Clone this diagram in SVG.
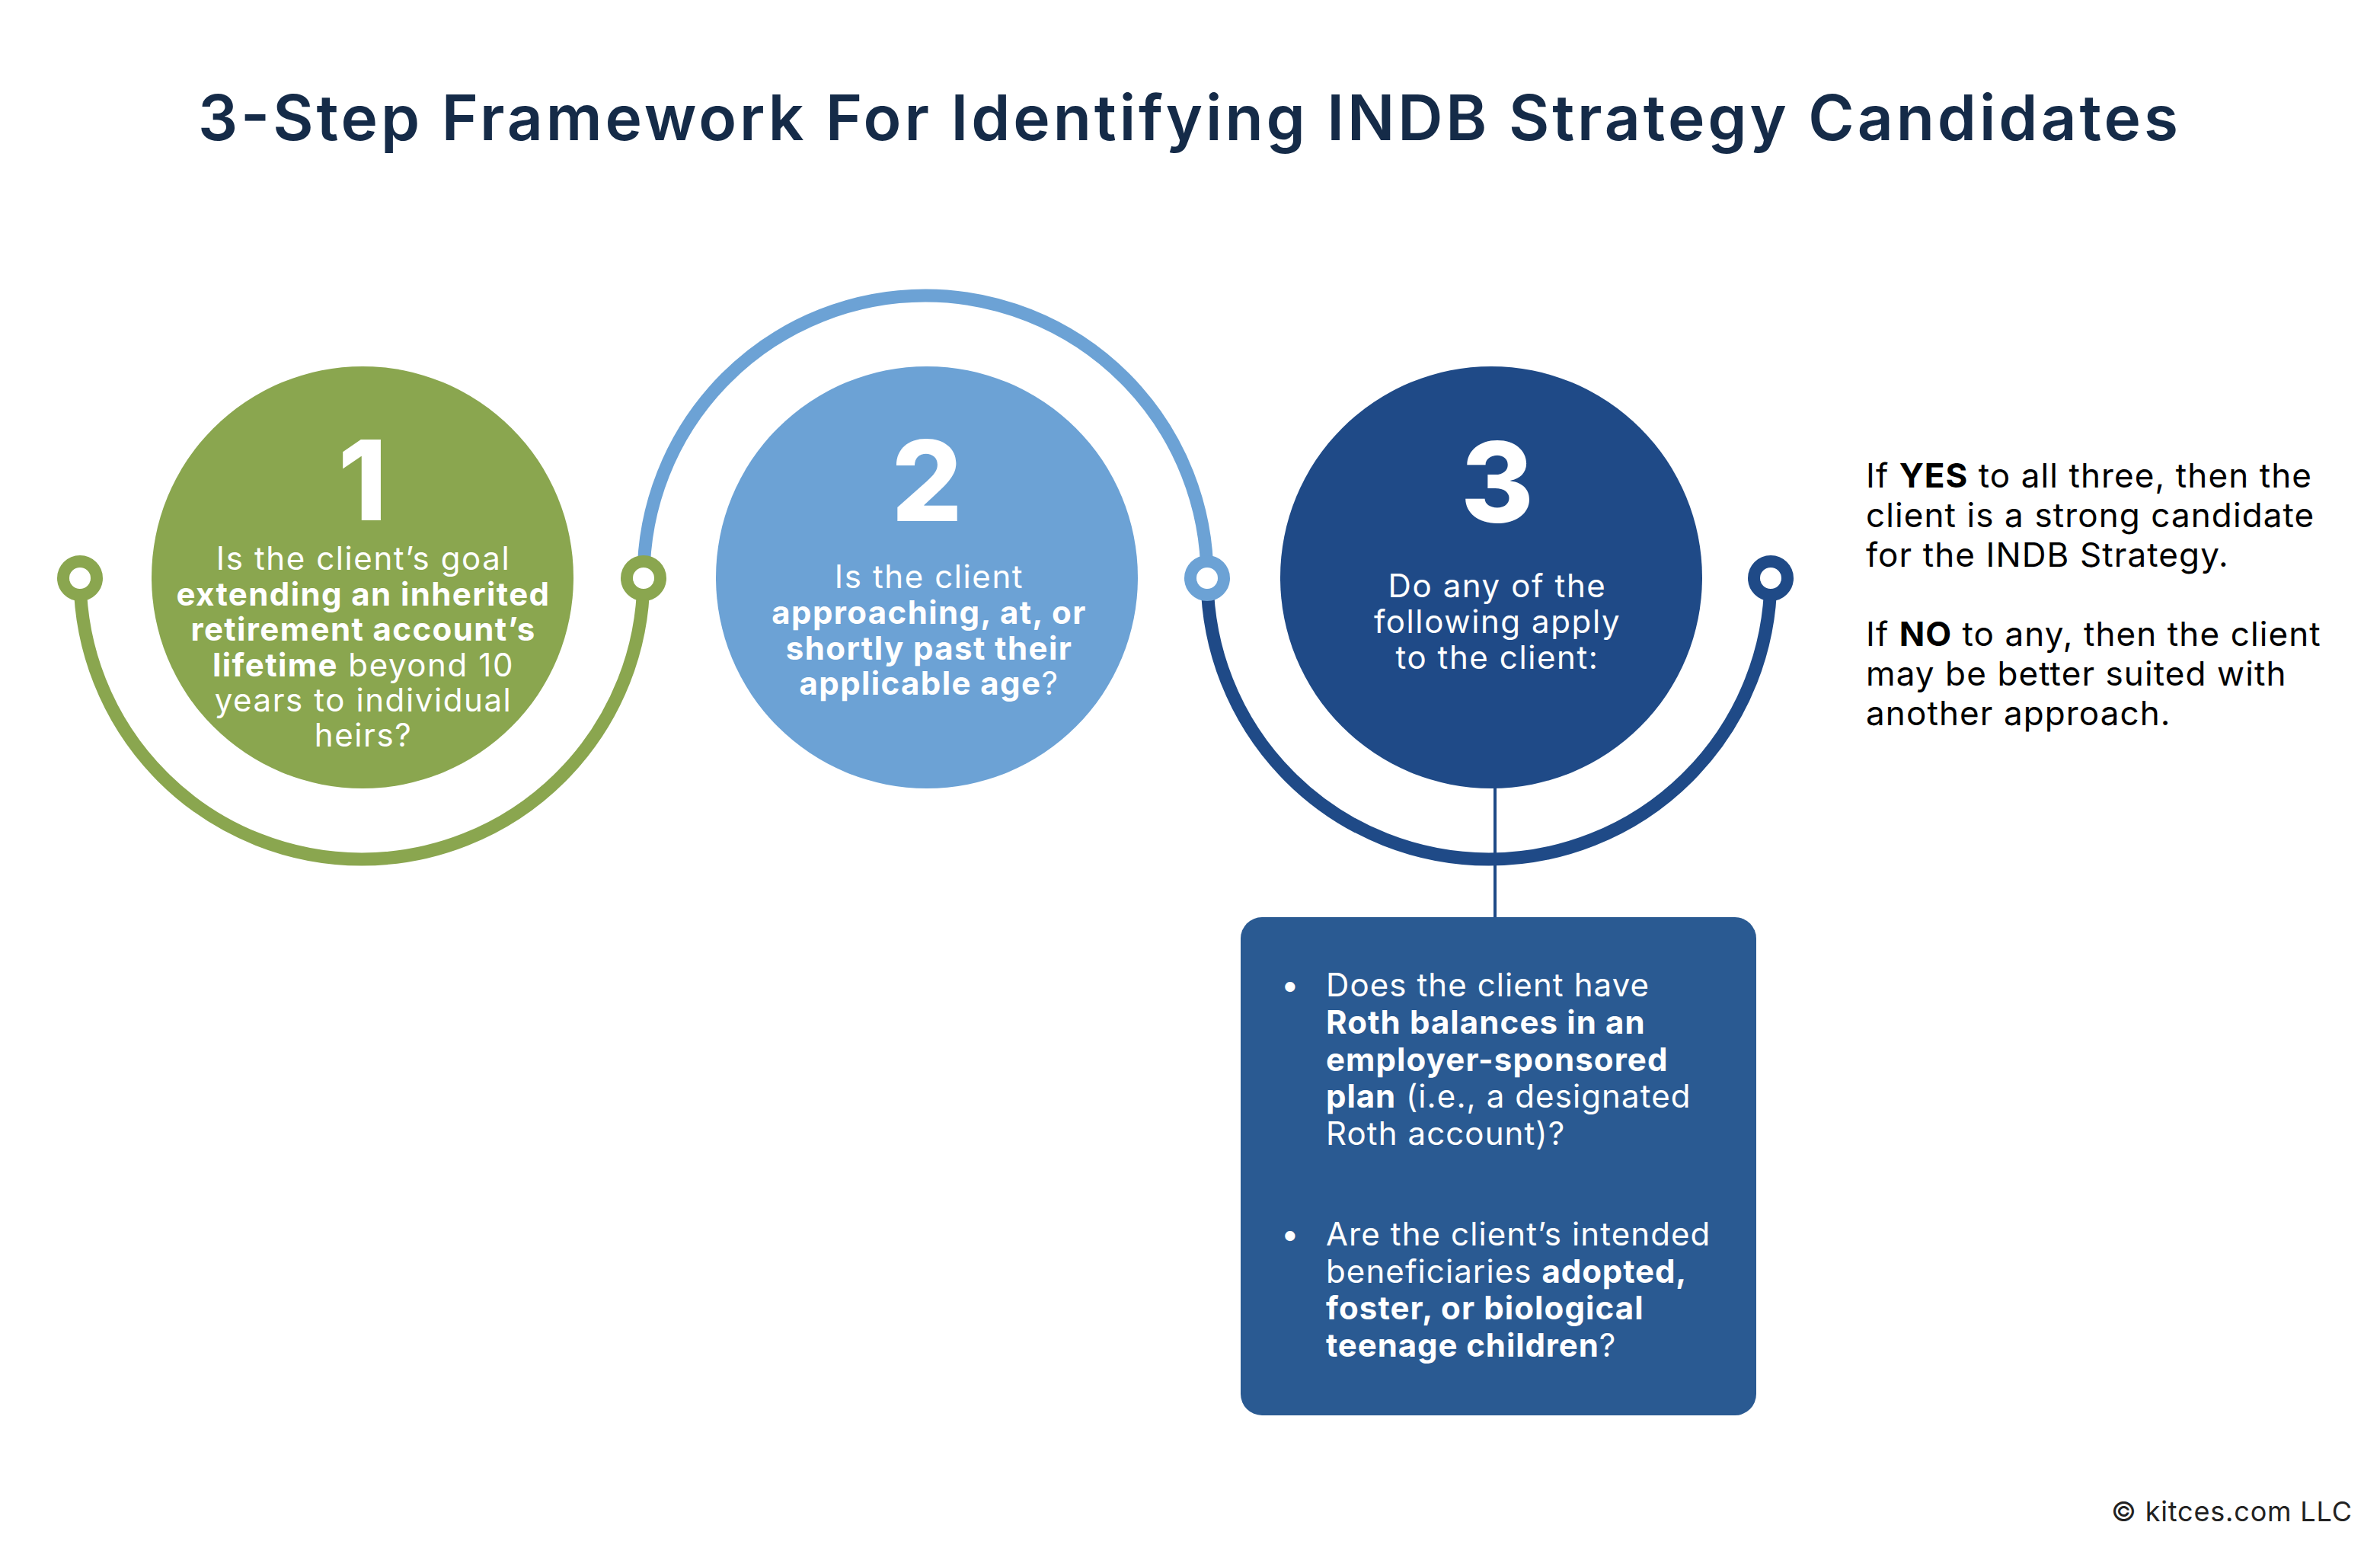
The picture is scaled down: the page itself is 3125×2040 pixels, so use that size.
<svg xmlns="http://www.w3.org/2000/svg" width="3125" height="2040" viewBox="0 0 3125 2040">
<style>
.t{font-family:Inter,"Noto Sans","Liberation Sans",sans-serif;}
.w{fill:#ffffff;}
.c{text-anchor:middle;font-size:42px;letter-spacing:1.6px;}
.b{font-weight:700;letter-spacing:0.9px;}
.c.b,.c .b{letter-spacing:1.4px;}
.num{font-size:146px;font-weight:800;text-anchor:middle;fill:#ffffff;}
.box{font-size:42px;letter-spacing:1.1px;fill:#ffffff;}
.side{font-size:44px;letter-spacing:1.1px;fill:#000000;}
.arc{fill:none;stroke-width:17;}
.ring{fill:#ffffff;stroke-width:16;}
</style>
<rect width="3125" height="2040" fill="#ffffff"/>
<text class="t" x="1560" y="184" font-size="82" font-weight="600" fill="#152B48" text-anchor="middle" textLength="2600" lengthAdjust="spacing">3-Step Framework For Identifying INDB Strategy Candidates</text>

<g id="connectors">
<path class="arc" stroke="#8AA64F" d="M105 758 A370 370 0 0 0 845 758"/>
<path class="arc" stroke="#6CA2D5" d="M845 758 A370 370 0 0 1 1585 758"/>
<path class="arc" stroke="#1F4A87" d="M1585 758 A370 370 0 0 0 2325 758"/>
<line x1="1963" y1="1030" x2="1963" y2="1204" stroke="#1F4A87" stroke-width="4"/>
<circle class="ring" cx="105" cy="759" r="22" stroke="#8AA64F"/>
<circle class="ring" cx="845" cy="759" r="22" stroke="#8AA64F"/>
<circle class="ring" cx="1585" cy="759" r="22" stroke="#6CA2D5"/>
<circle class="ring" cx="2325" cy="759" r="22" stroke="#1F4A87"/>
</g>

<g id="step1">
<circle cx="476" cy="758" r="277" fill="#8AA64F"/>
<text class="t num" x="476" y="683">1</text>
<text class="t c w" x="477" y="748">Is the client’s goal</text>
<text class="t c w b" x="477" y="795">extending an inherited</text>
<text class="t c w b" x="477" y="841">retirement account’s</text>
<text class="t c w" x="477" y="888"><tspan class="b">lifetime</tspan> beyond 10</text>
<text class="t c w" x="477" y="934">years to individual</text>
<text class="t c w" x="477" y="980">heirs?</text>
</g>

<g id="step2">
<circle cx="1217" cy="758" r="277" fill="#6CA2D5"/>
<text class="t num" x="1217" y="684">2</text>
<text class="t c w" x="1220" y="772">Is the client</text>
<text class="t c w b" x="1220" y="819">approaching, at, or</text>
<text class="t c w b" x="1220" y="866">shortly past their</text>
<text class="t c w" x="1220" y="912"><tspan class="b">applicable age</tspan>?</text>
</g>

<g id="step3">
<circle cx="1958" cy="758" r="277" fill="#1F4A87"/>
<text class="t num" x="1966" y="686">3</text>
<text class="t c w" x="1966" y="784">Do any of the</text>
<text class="t c w" x="1966" y="831">following apply</text>
<text class="t c w" x="1966" y="878">to the client:</text>
</g>

<g id="criteria">
<rect x="1629" y="1204" width="677" height="654" rx="28" fill="#2A5A92"/>
<text class="t box" x="1682" y="1308">•</text>
<text class="t box" x="1741" y="1308">Does the client have</text>
<text class="t box b" x="1741" y="1357">Roth balances in an</text>
<text class="t box b" x="1741" y="1406">employer-sponsored</text>
<text class="t box" x="1741" y="1454"><tspan class="b">plan</tspan> (i.e., a designated</text>
<text class="t box" x="1741" y="1503">Roth account)?</text>
<text class="t box" x="1682" y="1635">•</text>
<text class="t box" x="1741" y="1635">Are the client’s intended</text>
<text class="t box" x="1741" y="1684">beneficiaries <tspan class="b">adopted,</tspan></text>
<text class="t box b" x="1741" y="1732">foster, or biological</text>
<text class="t box" x="1741" y="1781"><tspan class="b">teenage children</tspan>?</text>
</g>

<g id="outcome">
<text class="t side" x="2450" y="640">If <tspan class="b">YES</tspan> to all three, then the</text>
<text class="t side" x="2450" y="692">client is a strong candidate</text>
<text class="t side" x="2450" y="744">for the INDB Strategy.</text>
<text class="t side" x="2450" y="848">If <tspan class="b">NO</tspan> to any, then the client</text>
<text class="t side" x="2450" y="900">may be better suited with</text>
<text class="t side" x="2450" y="952">another approach.</text>
</g>

<text class="t" x="2772" y="1997" font-size="36" fill="#222222" textLength="316" lengthAdjust="spacing">© kitces.com LLC</text>
</svg>
